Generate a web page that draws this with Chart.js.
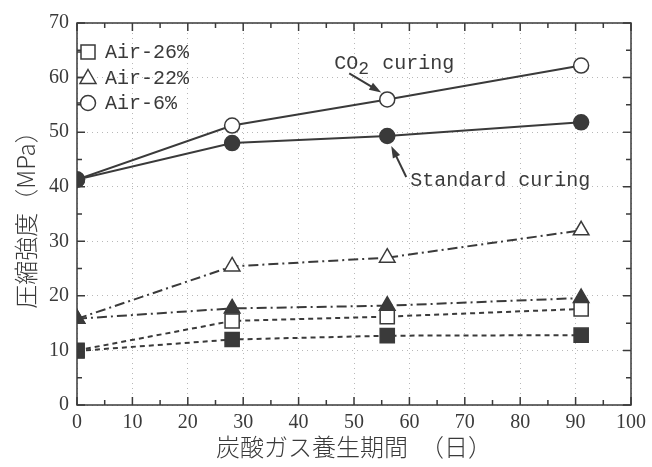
<!DOCTYPE html>
<html>
<head>
<meta charset="utf-8">
<script src="https://cdn.jsdelivr.net/npm/chart.js@4"></script>
<style>
  body { margin: 0; background: #fff; }
  canvas { display: block; }
</style>
</head>
<body>
<canvas id="chart" width="652" height="467"></canvas>
<script>
// curing days and compressive strength (MPa)
const days = [0, 28, 56, 91];
const co2Air6 = [41.3, 51.2, 56.0, 62.2];
const stdAir6 = [41.3, 48.0, 49.3, 51.8];
const co2Air22 = [15.8, 25.4, 27.0, 32.0];
const stdAir22 = [15.8, 17.7, 18.2, 19.6];
const co2Air26 = [10.0, 15.4, 16.2, 17.6];
const stdAir26 = [9.9, 12.0, 12.7, 12.8];

const xTicks = [0, 10, 20, 30, 40, 50, 60, 70, 80, 90, 100];
const yTicks = [0, 10, 20, 30, 40, 50, 60, 70];
const legendLabels = ['Air-26%', 'Air-22%', 'Air-6%'];

const ink = '#3a3a3a';
const monoFont = '"Liberation Mono", "DejaVu Sans Mono", monospace';

function pts(ys) {
    return days.map((d, i) => ({ x: d, y: ys[i] }));
}

function series(label, ys, style, filled, dash) {
    return {
        label: label,
        data: pts(ys),
        borderColor: ink,
        borderWidth: 2,
        borderDash: dash,
        pointStyle: style,
        pointRadius: style === 'rect' ? 10 : (style === 'triangle' ? 9 : 7.5),
        pointBorderWidth: 1.5,
        pointBorderColor: ink,
        pointBackgroundColor: filled ? ink : '#fff',
        fill: false,
        tension: 0
    };
}

function drawArrow(ctx, x1, y1, x2, y2) {
    const a = Math.atan2(y2 - y1, x2 - x1);
    ctx.beginPath();
    ctx.moveTo(x1, y1);
    ctx.lineTo(x2 - 6 * Math.cos(a), y2 - 6 * Math.sin(a));
    ctx.lineWidth = 2;
    ctx.stroke();
    ctx.beginPath();
    ctx.moveTo(x2, y2);
    ctx.lineTo(x2 - 12 * Math.cos(a) + 4 * Math.sin(a), y2 - 12 * Math.sin(a) - 4 * Math.cos(a));
    ctx.lineTo(x2 - 12 * Math.cos(a) - 4 * Math.sin(a), y2 - 12 * Math.sin(a) + 4 * Math.cos(a));
    ctx.closePath();
    ctx.fill();
}

// frame, inward ticks, legend and the two notes
const decor = {
    id: 'decor',
    afterDatasetsDraw(chart) {
        const ctx = chart.ctx;
        const a = chart.chartArea;
        const xs = chart.scales.x, ys = chart.scales.y;
        ctx.save();
        ctx.strokeStyle = ink;
        ctx.fillStyle = ink;
        ctx.lineWidth = 1.5;
        ctx.strokeRect(a.left, a.top, a.right - a.left, a.bottom - a.top);

        ctx.lineWidth = 1.5;
        for (let v = 0; v <= 100; v += 5) {
            const px = xs.getPixelForValue(v);
            const len = v % 10 === 0 ? 8 : 5;
            ctx.beginPath();
            ctx.moveTo(px, a.bottom); ctx.lineTo(px, a.bottom - len);
            ctx.moveTo(px, a.top); ctx.lineTo(px, a.top + len);
            ctx.stroke();
        }
        for (let v = 0; v <= 70; v += 5) {
            const py = ys.getPixelForValue(v);
            const len = v % 10 === 0 ? 8 : 5;
            ctx.beginPath();
            ctx.moveTo(a.left, py); ctx.lineTo(a.left + len, py);
            ctx.moveTo(a.right, py); ctx.lineTo(a.right - len, py);
            ctx.stroke();
        }

        // legend
        ctx.font = '20px ' + monoFont;
        ctx.textBaseline = 'middle';
        ctx.textAlign = 'left';
        const styles = ['rect', 'triangle', 'circle'];
        legendLabels.forEach((lab, i) => {
            const y = a.top + 29 + i * 25.5;
            const mx = a.left + 11;
            ctx.lineWidth = 1.5;
            ctx.beginPath();
            ctx.moveTo(a.left, y); ctx.lineTo(mx, y);
            ctx.stroke();
            ctx.fillStyle = '#fff';
            ctx.beginPath();
            if (styles[i] === 'rect') {
                ctx.rect(mx - 7, y - 7, 14, 14);
            } else if (styles[i] === 'triangle') {
                ctx.moveTo(mx, y - 8); ctx.lineTo(mx + 8, y + 6); ctx.lineTo(mx - 8, y + 6); ctx.closePath();
            } else {
                ctx.arc(mx, y, 7.5, 0, Math.PI * 2);
            }
            ctx.fill(); ctx.stroke();
            ctx.fillStyle = ink;
            ctx.fillText(lab, a.left + 28, y + 1);
        });

        // notes pointing at the day-56 points
        const px56 = xs.getPixelForValue(days[2]);
        const pyCo2 = ys.getPixelForValue(co2Air6[2]);
        const pyStd = ys.getPixelForValue(stdAir6[2]);
        ctx.textBaseline = 'alphabetic';
        let tx = px56 - 53, ty = pyCo2 - 30;
        ctx.fillText('CO', tx, ty);
        ctx.font = '18px ' + monoFont;
        ctx.fillText('2', tx + 24, ty + 5);
        ctx.font = '20px ' + monoFont;
        ctx.fillText(' curing', tx + 36, ty);
        drawArrow(ctx, px56 - 38, pyCo2 - 26, px56 - 6, pyCo2 - 7);

        ctx.fillText('Standard curing', px56 + 23, pyStd + 50);
        drawArrow(ctx, px56 + 19, pyStd + 41, px56 + 4, pyStd + 10);
        ctx.restore();
    }
};

new Chart(document.getElementById('chart'), {
    type: 'line',
    data: {
        // filled (standard) series first so they sit on top at day 0
        datasets: [
            series('Air-6% standard', stdAir6, 'circle', true, []),
            series('Air-6% CO2', co2Air6, 'circle', false, []),
            series('Air-22% standard', stdAir22, 'triangle', true, [10, 4, 2, 4]),
            series('Air-22% CO2', co2Air22, 'triangle', false, [10, 4, 2, 4]),
            series('Air-26% standard', stdAir26, 'rect', true, [5, 4]),
            series('Air-26% CO2', co2Air26, 'rect', false, [5, 4])
        ]
    },
    options: {
        responsive: false,
        animation: false,
        layout: { padding: { left: 0, right: 20, top: 23, bottom: 0 } },
        plugins: {
            legend: { display: false },
            tooltip: { enabled: false }
        },
        scales: {
            x: {
                type: 'linear',
                min: 0,
                max: 100,
                afterFit(s) { s.height = 62; },
                afterBuildTicks(s) { s.ticks = xTicks.map(v => ({ value: v })); },
                grid: { color: '#b8b8b8', drawTicks: false },
                border: { display: false, dash: [1, 4] },
                ticks: {
                    padding: 6,
                    color: ink,
                    font: { family: '"Liberation Serif", serif', size: 20 }
                },
                title: {
                    display: true,
                    text: '炭酸ガス養生期間　（日）',
                    color: ink,
                    font: { family: '"Noto Sans CJK JP", sans-serif', size: 24, weight: '300' },
                    padding: { top: 0, bottom: 6 }
                }
            },
            y: {
                min: 0,
                max: 70,
                afterFit(s) { s.width = 77; },
                afterBuildTicks(s) { s.ticks = yTicks.map(v => ({ value: v })); },
                grid: { color: '#b8b8b8', drawTicks: false },
                border: { display: false, dash: [1, 4] },
                ticks: {
                    padding: 8,
                    color: ink,
                    font: { family: '"Liberation Serif", serif', size: 20 }
                },
                title: {
                    display: true,
                    text: '圧縮強度（MPa）',
                    color: ink,
                    font: { family: '"Noto Sans CJK JP", sans-serif', size: 24, weight: '300' },
                    padding: { top: 11, bottom: 0 }
                }
            }
        }
    },
    plugins: [decor]
});
</script>
</body>
</html>
